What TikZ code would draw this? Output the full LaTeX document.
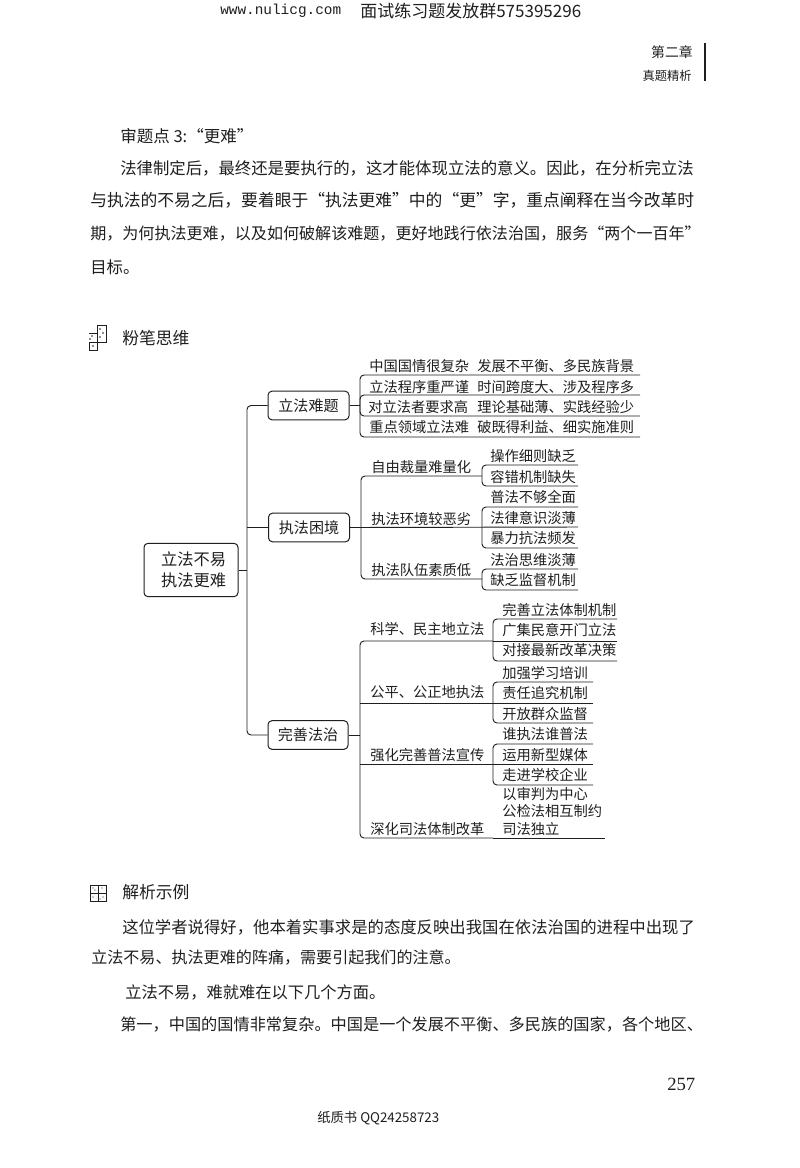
\documentclass[tikz,border=0pt]{standalone}
\usepackage{fontspec}
\setmainfont{Noto Sans CJK SC}
\newfontfamily\monof{Liberation Mono}
\newfontfamily\serf{Liberation Serif}
\definecolor{ink}{gray}{0.12}
\newcommand\fs[1]{\fontsize{#1}{14}\selectfont}
\tikzset{
  lbl/.style={anchor=west,inner sep=0pt,text=ink,font=\fs{10.7}},
  body/.style={anchor=west,inner sep=0pt,text=ink},
  head/.style={anchor=west,inner sep=0pt,text=ink,font=\fs{12.6}},
  boxb/.style={draw=ink,line width=0.75pt,rounded corners=3pt,inner sep=0pt,text=ink,align=center,minimum height=21.5pt,minimum width=60.75pt,font=\fontsize{11.3}{16}\selectfont},
  link/.style={draw=ink,line width=0.7pt,rounded corners=3pt},
  icon/.style={draw=ink,line width=0.6pt}
}
% rail with three rows: id, rail x, top y, middle y, bottom y, end x
\newcommand\railthree[6]{%
  \coordinate (#1ta) at (#6,#3); \coordinate (#1tr) at (#2,#3);
  \coordinate (#1bb) at (#2,#5); \coordinate (#1be) at (#6,#5);
  \draw[link] (#1ta) -- (#1tr) -- (#1bb) -- (#1be);
  \coordinate (#1ma) at (#2,#4); \coordinate (#1me) at (#6,#4);
  \draw[link] (#1ma) -- (#1me);}
\newcommand\railtwo[5]{%
  \coordinate (#1ta) at (#5,#3); \coordinate (#1tr) at (#2,#3);
  \coordinate (#1bb) at (#2,#4); \coordinate (#1be) at (#5,#4);
  \draw[link] (#1ta) -- (#1tr) -- (#1bb) -- (#1be);}
\begin{document}
\begin{tikzpicture}[x=0.75pt,y=-0.75pt]
\useasboundingbox (0,0) rectangle (800,1168);
\fill[white] (0,0) rectangle (800,1168);

% page header
\node[anchor=west,inner sep=0pt,text=ink,font=\monof\fontsize{10.8}{14}\selectfont] (urla) at (220,11) {www.nulicg.com};
\node[anchor=west,inner sep=0pt,text=ink,font=\fs{12.75}] (urlb) at (360,11) {面试练习题发放群575395296};
\node[anchor=east,inner sep=0pt,text=ink,font=\fs{10.4}] (chap) at (693,52) {第二章};
\node[anchor=east,inner sep=0pt,text=ink,font=\fs{9.2}] (sect) at (692,76) {真题精析};
\coordinate (bara) at (705,43); \coordinate (barb) at (705,81);
\draw[draw=ink,line width=0.8pt] (bara) -- (barb);

% first text block
\node[body,font=\fs{12.4}] (t1) at (120,136) {审题点 3:“更难”};
\node[body,font=\fs{12.29}] (t2) at (120,168) {法律制定后，最终还是要执行的，这才能体现立法的意义。因此，在分析完立法};
\node[body,font=\fs{12.58}] (t3) at (90,200.5) {与执法的不易之后，要着眼于“执法更难”中的“更”字，重点阐释在当今改革时};
\node[body,font=\fs{12.05}] (t4) at (90,234) {期，为何执法更难，以及如何破解该难题，更好地践行依法治国，服务“两个一百年”};
\node[body,font=\fs{12.3}] (t5) at (90,267) {目标。};

% section 1 title
\draw[icon] (97,325) rectangle (106,342);
\draw[icon] (89,342) rectangle (97,350);
\draw[icon] (89,333) -- (97,333);
\foreach \a/\b in {100/329,103/333,100/337,92/336,90/339,93/346}{\fill[ink] (\a,\b) circle (0.8);}
\node[head] (s1) at (122,338) {粉笔思维};

% root and branches
\node[boxb,minimum width=70.5pt,minimum height=40pt,font=\fontsize{12.2}{15.8}\selectfont] (root) at (191,570) {\hspace{4pt}立法不易\\\hspace{4pt}执法更难};
\node[boxb] (b1) at (308.5,405.5) {立法难题};
\node[boxb] (b2) at (309,527.5) {执法困境};
\node[boxb,minimum width=60pt] (b3) at (308,735) {完善法治};
\coordinate (trt) at (247,405.5); \coordinate (trb) at (247,735); \coordinate (trm) at (247,527.5); \coordinate (trr) at (247,570);
\draw[link] (b1.west) -- (trt) -- (trb) -- (b3.west);
\draw[link] (b2.west) -- (trm);
\draw[link] (root.east) -- (trr);

% branch 1
\coordinate (c1a) at (360,405.5);
\draw[link] (b1.east) -- (c1a);
\railtwo{ra}{360}{375}{437}{640}
\railtwo{rb}{360}{395}{416}{640}
\node[lbl] (a1) at (369,366) {中国国情很复杂};
\node[lbl] (a2) at (369,387) {立法程序重严谨};
\node[lbl] (a3) at (368,407) {对立法者要求高};
\node[lbl] (a4) at (369,427) {重点领域立法难};
\node[lbl] (a5) at (477,366) {发展不平衡、多民族背景};
\node[lbl] (a6) at (477,387) {时间跨度大、涉及程序多};
\node[lbl] (a7) at (477,407) {理论基础薄、实践经验少};
\node[lbl] (a8) at (477,427) {破既得利益、细实施准则};

% branch 2
\coordinate (c2e) at (578,527);
\draw[link] (b2.east) -- (c2e);
\railtwo{gb}{361}{476}{579}{482}
\railtwo{pa}{482}{465}{486}{578}
\railtwo{pb}{482}{507}{548}{578}
\railtwo{pc}{482}{569}{590}{578}
\node[lbl] (e1) at (371,467) {自由裁量难量化};
\node[lbl] (e2) at (371,519) {执法环境较恶劣};
\node[lbl] (e3) at (371,570) {执法队伍素质低};
\node[lbl] (f1) at (490,456) {操作细则缺乏};
\node[lbl] (f2) at (490,477) {容错机制缺失};
\node[lbl] (f3) at (490,497) {普法不够全面};
\node[lbl] (f4) at (490,518) {法律意识淡薄};
\node[lbl] (f5) at (490,538) {暴力抗法频发};
\node[lbl] (f6) at (490,560) {法治思维淡薄};
\node[lbl] (f7) at (490,580) {缺乏监督机制};

% branch 3
\coordinate (c3a) at (360,735);
\draw[link] (b3.east) -- (c3a);
\railthree{ga}{360}{641}{703}{838}{493}
\coordinate (gend) at (605,838);
\draw[link] (gabe) -- (gend);
\coordinate (g3a) at (360,764); \coordinate (g3b) at (493,764);
\draw[link] (g3a) -- (g3b);
\railthree{qa}{493}{619}{641}{661}{617}
\railthree{qb}{493}{682}{703}{723}{593}
\railthree{qc}{493}{744}{764}{785}{593}
\node[lbl] (k1) at (370,629) {科学、民主地立法};
\node[lbl] (k2) at (370,692) {公平、公正地执法};
\node[lbl] (k3) at (370,755) {强化完善普法宣传};
\node[lbl] (k4) at (370,829) {深化司法体制改革};
\node[lbl] (m1) at (502,610) {完善立法体制机制};
\node[lbl] (m2) at (502,630) {广集民意开门立法};
\node[lbl] (m3) at (502,650) {对接最新改革决策};
\node[lbl] (m4) at (502,673) {加强学习培训};
\node[lbl] (m5) at (502,693) {责任追究机制};
\node[lbl] (m6) at (502,714) {开放群众监督};
\node[lbl] (m7) at (502,734) {谁执法谁普法};
\node[lbl] (m8) at (502,755) {运用新型媒体};
\node[lbl] (m9) at (502,775) {走进学校企业};
\node[lbl] (m10) at (502,794) {以审判为中心};
\node[lbl] (m11) at (502,811) {公检法相互制约};
\node[lbl] (m12) at (502,829) {司法独立};

% section 2 title
\draw[icon] (90,885) rectangle (106,901);
\draw[icon] (98,885) -- (98,901);
\draw[icon] (90,893) -- (106,893);
\foreach \a/\b in {93/888,95/890,102/888,103/897,100/899,93/897}{\fill[ink] (\a,\b) circle (0.7);}
\node[head] (s2) at (122,892) {解析示例};

% second text block
\node[body,font=\fs{12.27}] (u1) at (122,927) {这位学者说得好，他本着实事求是的态度反映出我国在依法治国的进程中出现了};
\node[body,font=\fs{12.05}] (u2) at (91,958) {立法不易、执法更难的阵痛，需要引起我们的注意。};
\node[body,font=\fs{12.19}] (u3) at (125,992) {立法不易，难就难在以下几个方面。};
\node[body,font=\fs{12.14}] (u4) at (120,1024) {第一，中国的国情非常复杂。中国是一个发展不平衡、多民族的国家，各个地区、};

% footer
\node[anchor=west,inner sep=0pt,text=ink,font=\serf\fontsize{14}{16}\selectfont] (pg) at (667,1084) {257};
\node[anchor=west,inner sep=0pt,text=ink,font=\fs{10}] (ft) at (317,1118) {纸质书 QQ24258723};
\end{tikzpicture}
\end{document}
